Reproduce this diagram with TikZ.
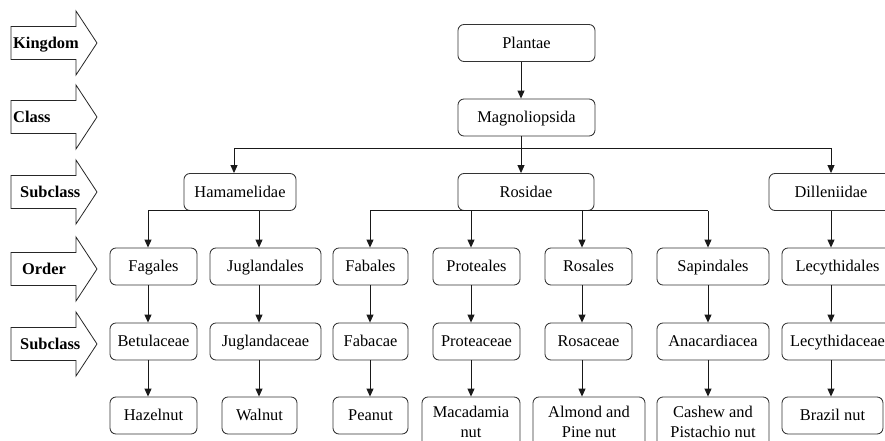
\documentclass[tikz,border=0pt]{standalone}
\usepackage{fontspec}
\setmainfont{Liberation Serif}
\usetikzlibrary{arrows.meta}
\begin{document}
\begin{tikzpicture}[x=1pt,y=-1pt,
  txt/.style={font=\fontsize{16.4}{19.5}\selectfont},
  box/.style={txt, draw=black!80, line width=0.85pt, rounded corners=6pt,
    minimum height=37pt, inner sep=0pt, text height=14pt, text depth=3.4pt},
  tallbox/.style={txt, draw=black!80, line width=0.85pt, rounded corners=6pt,
    minimum height=50pt, inner sep=0pt, align=center},
  link/.style={line width=0.9pt, draw=black!90},
  arr/.style={link, -{Triangle[length=8pt,width=7pt]}},
  rankname/.style={txt, font=\fontsize{16.4}{19.5}\selectfont\bfseries,
    inner sep=0pt, anchor=west, text height=14pt, text depth=3.4pt},
  rankshape/.style={draw=black!85, line width=0.8pt, fill=white},
  rankarrow/.pic={\draw[rankshape] (0,-16.5) -- (65,-16.5) -- (65,-32)
    -- (86,0) -- (65,32) -- (65,16.5) -- (0,16.5) -- cycle;}
]
\useasboundingbox (0,0) rectangle (885,441);
\clip (0,0) rectangle (885,441);

% rank arrows on the left
\pic at (11,43)  {rankarrow};
\pic at (11,117) {rankarrow};
\pic at (11,192) {rankarrow};
\pic at (11,269) {rankarrow};
\pic at (11,344) {rankarrow};
\node[rankname] (rk) at (13,43)  {Kingdom};
\node[rankname] (rc) at (13,117) {Class};
\node[rankname] (rs) at (20,192) {Subclass};
\node[rankname] (ro) at (22,269) {Order};
\node[rankname] (rf) at (20,344) {Subclass};

% connector columns
\coordinate (cm) at (521,0);
\coordinate (ch) at (234,0);
\coordinate (cf) at (148,0);
\coordinate (cj) at (259,0);
\coordinate (cfa) at (370,0);
\coordinate (cp) at (471,0);
\coordinate (cr) at (582,0);
\coordinate (cs) at (708,0);
\coordinate (cl) at (831,0);
\coordinate (bar) at (0,148);

% kingdom, class, subclass
\node[box, minimum width=137pt] (plantae) at (526.5,43) {Plantae};
\node[box, minimum width=137pt] (magno) at (526.5,117.5) {Magnoliopsida};
\node[box, minimum width=112pt] (hama) at (240,192) {Hamamelidae};
\node[box, minimum width=136pt] (rosi) at (526,192) {Rosidae};
\node[box, minimum width=124pt] (dill) at (831,192) {Dilleniidae};

% orders
\node[box, minimum width=87pt]  (fagales) at (153.5,266.5) {Fagales};
\node[box, minimum width=111pt] (juglandales) at (265.5,266.5) {Juglandales};
\node[box, minimum width=75pt]  (fabales) at (370.5,266.5) {Fabales};
\node[box, minimum width=87pt]  (proteales) at (476.5,266.5) {Proteales};
\node[box, minimum width=87pt]  (rosales) at (588.5,266.5) {Rosales};
\node[box, minimum width=112pt] (sapindales) at (713,266.5) {Sapindales};
\node[box, minimum width=111pt] (lecythidales) at (837.5,266.5) {Lecythidales};

% families
\node[box, minimum width=87pt]  (betulaceae) at (153.5,341.5) {Betulaceae};
\node[box, minimum width=111pt] (juglandaceae) at (265.5,341.5) {Juglandaceae};
\node[box, minimum width=75pt]  (fabacae) at (370.5,341.5) {Fabacae};
\node[box, minimum width=87pt]  (proteaceae) at (476.5,341.5) {Proteaceae};
\node[box, minimum width=87pt]  (rosaceae) at (588.5,341.5) {Rosaceae};
\node[box, minimum width=112pt] (anacardiacea) at (713,341.5) {Anacardiacea};
\node[box, minimum width=111pt] (lecythidaceae) at (837.5,341.5) {Lecythidaceae};

% nuts
\node[box, minimum width=87pt]  (hazelnut) at (153.5,415.5) {Hazelnut};
\node[box, minimum width=75pt]  (walnut) at (259.5,415.5) {Walnut};
\node[box, minimum width=75pt]  (peanut) at (370.5,415.5) {Peanut};
\node[tallbox, minimum width=98pt]  (macadamia) at (471,422) {Macadamia\\nut};
\node[tallbox, minimum width=112pt] (almond) at (589,422) {Almond and\\Pine nut};
\node[tallbox, minimum width=112pt] (cashew) at (713,422) {Cashew and\\Pistachio nut};
\node[box, minimum width=101pt] (brazil) at (832.5,415.5) {Brazil nut};

% top of the tree
\draw[arr] (plantae.south -| cm) -- (magno.north -| cm);
\draw[arr] (magno.south -| cm) -- (rosi.north -| cm);
\draw[link] (bar -| ch) -- (bar -| cl);
\draw[arr] (bar -| ch) -- (hama.north -| ch);
\draw[arr] (bar -| cl) -- (dill.north -| cl);

% Hamamelidae branch
\draw[link] (hama.south -| cf) -- (hama.south -| cj);
\draw[arr] (hama.south -| cf) -- (fagales.north -| cf);
\draw[arr] (hama.south -| cj) -- (juglandales.north -| cj);

% Rosidae branch
\draw[link] (rosi.south -| cfa) -- (rosi.south -| cs);
\draw[arr] (rosi.south -| cfa) -- (fabales.north -| cfa);
\draw[arr] (rosi.south -| cp) -- (proteales.north -| cp);
\draw[arr] (rosi.south -| cr) -- (rosales.north -| cr);
\draw[arr] (rosi.south -| cs) -- (sapindales.north -| cs);

% Dilleniidae branch
\draw[arr] (dill.south -| cl) -- (lecythidales.north -| cl);

% order to family
\draw[arr] (fagales.south -| cf) -- (betulaceae.north -| cf);
\draw[arr] (juglandales.south -| cj) -- (juglandaceae.north -| cj);
\draw[arr] (fabales.south -| cfa) -- (fabacae.north -| cfa);
\draw[arr] (proteales.south -| cp) -- (proteaceae.north -| cp);
\draw[arr] (rosales.south -| cr) -- (rosaceae.north -| cr);
\draw[arr] (sapindales.south -| cs) -- (anacardiacea.north -| cs);
\draw[arr] (lecythidales.south -| cl) -- (lecythidaceae.north -| cl);

% family to nut
\draw[arr] (betulaceae.south -| cf) -- (hazelnut.north -| cf);
\draw[arr] (juglandaceae.south -| cj) -- (walnut.north -| cj);
\draw[arr] (fabacae.south -| cfa) -- (peanut.north -| cfa);
\draw[arr] (proteaceae.south -| cp) -- (macadamia.north -| cp);
\draw[arr] (rosaceae.south -| cr) -- (almond.north -| cr);
\draw[arr] (anacardiacea.south -| cs) -- (cashew.north -| cs);
\draw[arr] (lecythidaceae.south -| cl) -- (brazil.north -| cl);
\end{tikzpicture}
\end{document}
